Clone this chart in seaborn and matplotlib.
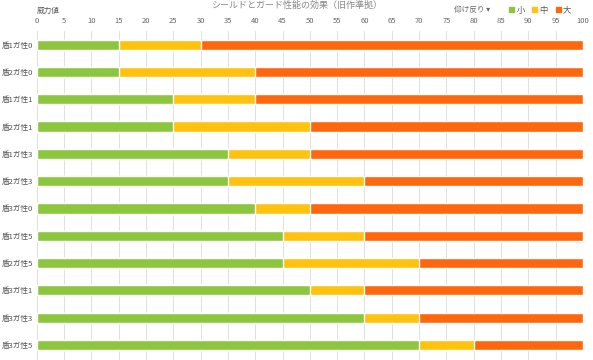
import matplotlib
matplotlib.use("Agg")
import matplotlib.pyplot as plt
import seaborn as sns
import pandas as pd
from matplotlib.patches import Patch

# row labels, top to bottom
labels = ["盾1ガ性0", "盾2ガ性0", "盾1ガ性1", "盾2ガ性1", "盾1ガ性3", "盾2ガ性3",
          "盾3ガ性0", "盾1ガ性5", "盾2ガ性5", "盾3ガ性1", "盾3ガ性3", "盾3ガ性5"]
# width of each segment
small = [15, 15, 25, 25, 35, 35, 40, 45, 45, 50, 60, 70]
medium = [15, 25, 15, 25, 15, 25, 10, 15, 25, 10, 10, 10]
large = [70, 60, 60, 50, 50, 40, 50, 40, 30, 40, 30, 20]

series_names = ["小", "中", "大"]
colors = ["#8CC63F", "#FFC20E", "#FF670F"]

df = pd.DataFrame({"label": labels, "small": small, "medium": medium, "large": large})
df["end_small"] = df["small"]
df["end_medium"] = df["small"] + df["medium"]
df["end_large"] = df["end_medium"] + df["large"]

sns.set_style("white")
plt.rcParams["font.family"] = ["Noto Sans CJK JP", "DejaVu Sans"]

fig = plt.figure(figsize=(5.93, 3.6), dpi=100)
ax = fig.add_axes([0.062, 0.0, 0.921, 0.914])

# stacked bars: draw the longest cumulative bar first
for col, c in zip(["end_large", "end_medium", "end_small"], colors[::-1]):
    sns.barplot(data=df, x=col, y="label", color=c, orient="h", width=0.37,
                saturation=1, ax=ax, zorder=3)

ax.set_xlim(0, 100)
ax.set_ylim(len(labels) - 0.45, -0.5)
ax.set_xticks(range(0, 101, 5))
ax.xaxis.tick_top()
ax.tick_params(axis="x", length=0, labelsize=5.5, labelcolor="#666666", pad=4)
ax.tick_params(axis="y", length=0, labelsize=5.5, labelcolor="#555555", pad=3)
ax.grid(axis="x", color="#e0e0e0", linewidth=0.7, zorder=0)
ax.set_axisbelow(True)
for s in ax.spines.values():
    s.set_visible(False)
ax.set_xlabel("")
ax.set_ylabel("")

fig.text(0.062, 0.97, "威力値", fontsize=5.5, color="#555555", ha="left", va="center")
fig.text(0.5, 0.997, "シールドとガード性能の効果（旧作準拠）", fontsize=6.5, color="#888888",
         ha="center", va="top")
fig.text(0.765, 0.972, "仰け反り ▾", fontsize=5.5, color="#666666", ha="left", va="center")

handles = [Patch(color=c, label=n) for c, n in zip(colors, series_names)]
fig.legend(handles=handles, loc="center left", bbox_to_anchor=(0.858, 0.972), ncol=3,
           frameon=False, fontsize=6, handlelength=0.6, handleheight=0.6,
           handletextpad=0.3, columnspacing=0.9, labelcolor="#555555",
           borderpad=0, borderaxespad=0)

fig.savefig("out.png", dpi=100)
